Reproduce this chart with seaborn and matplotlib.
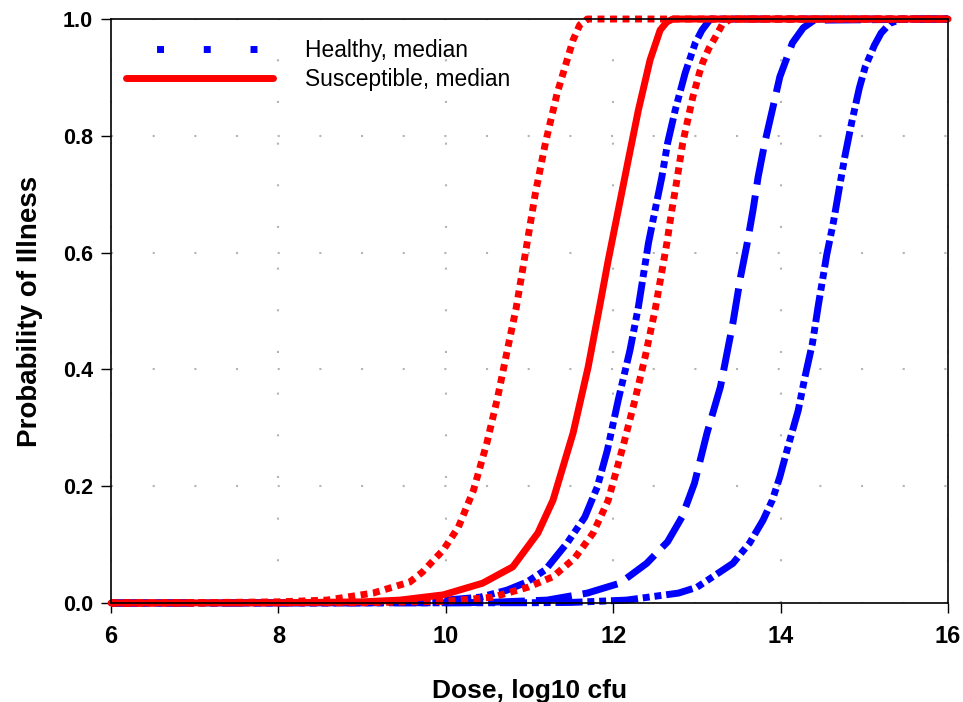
import matplotlib
matplotlib.use("Agg")
import matplotlib.pyplot as plt
from matplotlib.lines import Line2D
import seaborn as sns

# 剂量-反应曲线数据 (log10 cfu, 发病概率) —— 点
# 易感人群：下限 / 中位数 / 上限
sus_low_x = [6, 7, 8, 8.58, 9.13, 9.57, 9.72, 9.97, 10.15, 10.33, 10.49, 10.62, 10.74, 10.84,
             10.97, 11.07, 11.19, 11.33, 11.52, 11.6, 11.69, 16]
sus_low_y = [0, 0.0005, 0.002, 0.005, 0.017, 0.036, 0.053, 0.091, 0.130, 0.193, 0.274, 0.353, 0.437, 0.505,
             0.616, 0.702, 0.788, 0.873, 0.964, 0.99, 1.0, 1.0]

sus_med_x = [6, 8, 9, 9.45, 9.97, 10.44, 10.8, 11.1, 11.28, 11.52, 11.70, 11.84, 11.94, 12.06,
             12.18, 12.30, 12.44, 12.56, 12.64, 12.71, 16]
sus_med_y = [0, 0.0005, 0.002, 0.005, 0.014, 0.034, 0.062, 0.120, 0.176, 0.291, 0.404, 0.51, 0.587, 0.673,
             0.759, 0.844, 0.930, 0.981, 0.995, 1.0, 1.0]

sus_high_x = [6, 9, 10, 10.56, 10.98, 11.28, 11.54, 11.76, 11.94, 12.12, 12.26, 12.38, 12.50, 12.64,
              12.70, 12.76, 12.83, 12.89, 12.95, 13.03, 13.07, 13.14, 13.22, 13.30, 13.4, 16]
sus_high_y = [0, 0.0005, 0.003, 0.010, 0.027, 0.045, 0.077, 0.120, 0.176, 0.27, 0.348, 0.421, 0.502, 0.616,
              0.673, 0.724, 0.788, 0.827, 0.866, 0.908, 0.926, 0.949, 0.969, 0.99, 1.0, 1.0]

# 健康人群：下限 / 中位数 / 上限
hea_low_x = [6, 9, 9.5, 10, 10.41, 10.73, 10.97, 11.19, 11.45, 11.66, 11.81, 11.93, 12.06, 12.20,
             12.30, 12.42, 12.50, 12.58, 12.65, 12.74, 12.86, 12.98, 13.06, 13.16, 16]
hea_low_y = [0, 0.0005, 0.002, 0.005, 0.010, 0.022, 0.036, 0.057, 0.103, 0.147, 0.199, 0.262, 0.348, 0.433,
             0.507, 0.616, 0.673, 0.729, 0.788, 0.844, 0.908, 0.959, 0.981, 1.0, 1.0]

hea_med_x = [6, 10, 10.5, 11.21, 11.69, 12.08, 12.40, 12.65, 12.82, 12.97, 13.12, 13.28, 13.43, 13.52,
             13.60, 13.67, 13.73, 13.81, 13.90, 13.99, 14.14, 14.27, 14.4, 16]
hea_med_y = [0, 0.0005, 0.001, 0.005, 0.017, 0.034, 0.068, 0.105, 0.147, 0.205, 0.291, 0.37, 0.48, 0.558,
             0.616, 0.673, 0.729, 0.788, 0.844, 0.901, 0.959, 0.985, 0.998, 1.0]

hea_high_x = [6, 11, 11.5, 12.16, 12.78, 13.00, 13.19, 13.43, 13.63, 13.79, 13.90, 13.99, 14.10, 14.21,
              14.29, 14.38, 14.45, 14.55, 14.63, 14.70, 14.77, 14.85, 14.94, 15.01, 15.12, 15.20, 15.31, 15.45, 16]
hea_high_y = [0, 0.0005, 0.001, 0.005, 0.017, 0.027, 0.045, 0.068, 0.103, 0.142, 0.176, 0.216, 0.274, 0.330,
              0.387, 0.445, 0.510, 0.596, 0.652, 0.710, 0.767, 0.824, 0.882, 0.918, 0.955, 0.976, 0.993, 1.0, 1.0]

x_ticks = [6, 8, 10, 12, 14, 16]
y_ticks = [0.0, 0.2, 0.4, 0.6, 0.8, 1.0]
legend_labels = ["Healthy, median", "Susceptible, median"]

sns.set_theme(style="white")
plt.rcParams['font.family'] = ['Liberation Sans', 'DejaVu Sans']
plt.rcParams['text.color'] = 'black'
plt.rcParams['axes.labelcolor'] = 'black'
plt.rcParams['xtick.color'] = 'black'
plt.rcParams['ytick.color'] = 'black'

# 线型
dotted = (0, (1, 0.8))
dash_dot_dot = (0, (3.9, 0.7, 1, 0.7, 1, 0.7))
long_dash = (0, (5.2, 1.6))

fig = plt.figure(figsize=(9.63, 7.02), dpi=100)
ax = fig.add_axes([0.1153, 0.141, 0.8692, 0.8319])

# 先画蓝色（健康），再画红色（易感）
sns.lineplot(x=hea_low_x, y=hea_low_y, ax=ax, color="#0000ff", lw=5, linestyle=dash_dot_dot, errorbar=None, clip_on=False)
sns.lineplot(x=hea_med_x, y=hea_med_y, ax=ax, color="#0000ff", lw=5, linestyle=long_dash, errorbar=None, clip_on=False)
sns.lineplot(x=hea_high_x, y=hea_high_y, ax=ax, color="#0000ff", lw=5, linestyle=dash_dot_dot, errorbar=None, clip_on=False)
sns.lineplot(x=sus_low_x, y=sus_low_y, ax=ax, color="#ff0000", lw=5, linestyle=dotted, errorbar=None, clip_on=False)
sns.lineplot(x=sus_high_x, y=sus_high_y, ax=ax, color="#ff0000", lw=5, linestyle=dotted, errorbar=None, clip_on=False)
sns.lineplot(x=sus_med_x, y=sus_med_y, ax=ax, color="#ff0000", lw=5, linestyle="-", errorbar=None, clip_on=False)

ax.set_xlim(6, 16)
ax.set_ylim(0, 1)
ax.set_xticks(x_ticks)
ax.set_yticks(y_ticks)
ax.set_xticklabels([str(t) for t in x_ticks], fontsize=17, fontweight="bold")
ax.set_yticklabels([f"{t:.1f}" for t in y_ticks], fontsize=15.5, fontweight="bold")
ax.tick_params(direction="out", length=7, width=1, color="black", bottom=True, left=True)
ax.tick_params(axis="x", pad=9)
ax.tick_params(axis="y", pad=6)

ax.set_xlabel("Dose, log10 cfu", fontsize=19, fontweight="bold", labelpad=22)
ax.set_ylabel("Probability of Illness", fontsize=20, fontweight="bold", labelpad=14)

# 灰色点状网格
ax.grid(True, color="#b4b4b4", linestyle=(0, (1, 19)), lw=1.5)
for s in ax.spines.values():
    s.set_color("black")
    s.set_linewidth(1.2)
    s.set_visible(True)

# 图例
handles = [
    Line2D([], [], color="#0000ff", lw=5, linestyle=(2.33, (1, 5.73))),
    Line2D([], [], color="#ff0000", lw=5, linestyle="-"),
]
ax.legend(handles, legend_labels, loc="upper left", bbox_to_anchor=(0.018, 0.965),
          frameon=False, fontsize=16.4, handlelength=6.45, handletextpad=1.4,
          labelspacing=0.23, borderpad=0, borderaxespad=0)

plt.savefig("out.png", dpi=100)
